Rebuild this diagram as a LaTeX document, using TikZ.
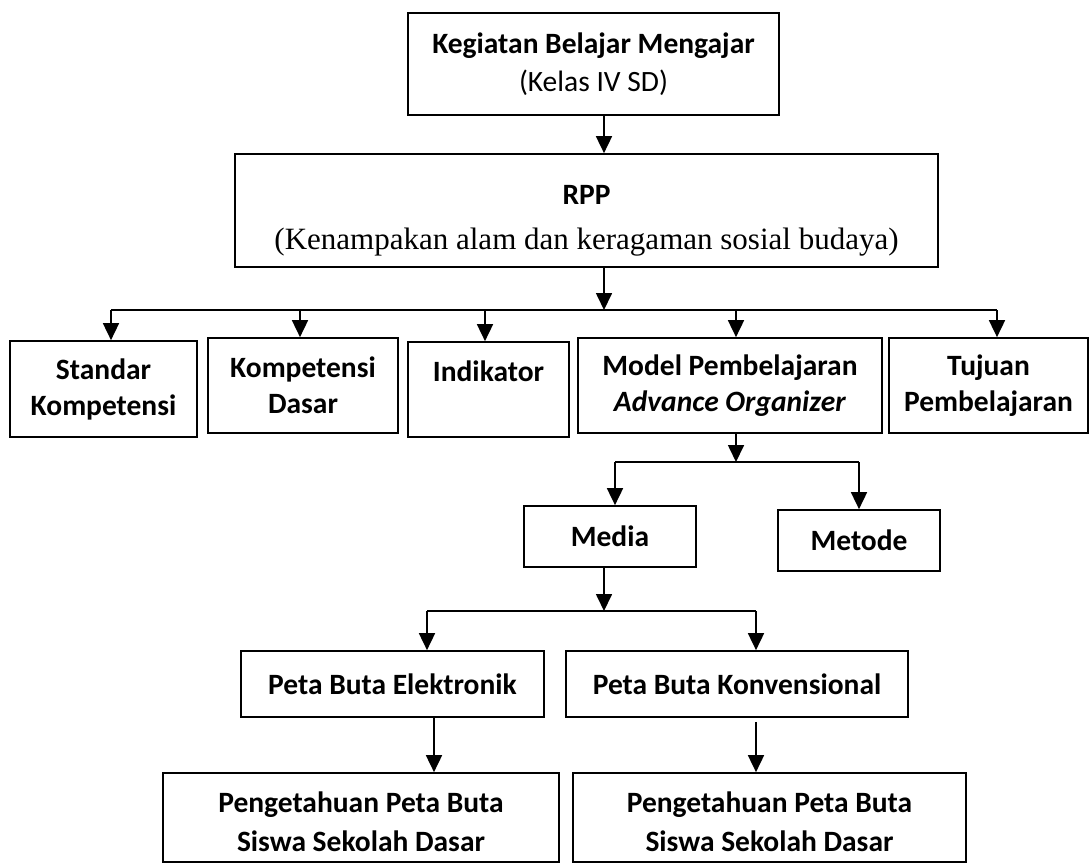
\documentclass[tikz,border=0pt]{standalone}
\usepackage{fontspec}
\setmainfont{Carlito}
\newfontfamily\serifrm{Liberation Serif}
\usetikzlibrary{arrows.meta,calc}

\begin{document}
\begin{tikzpicture}
[x=1pt,y=-1pt,
box/.style={
	draw,
	line width=1.7pt,
	inner sep=0pt,
	align=center,
	font=\bfseries\fontsize{29.5}{36}\selectfont,
    },
arr/.style={line width=1.7pt,-{Triangle[width=16pt,length=17pt]}},
bus/.style={line width=1.7pt},]
\useasboundingbox (0,0) rectangle (1091,865);

% draw the top part
\node[box, minimum width=371, minimum height=102] (kbm) at (593.5,64)
  {Kegiatan Belajar Mengajar\\[2pt]\mdseries (Kelas IV SD)};
\node[box, minimum width=703, minimum height=113] (rpp) at (586.5,210.5)
  {\rule{0pt}{40pt}RPP\\[9pt]\mdseries\serifrm\fontsize{31}{36}\selectfont (Kenampakan alam dan keragaman sosial budaya)};

% draw the middle row
\node[box, minimum width=187, minimum height=96] (sk) at (103.5,389) {Standar\\Kompetensi};
\node[box, minimum width=190, minimum height=95] (kd) at (303,385.5) {Kompetensi\\Dasar};
\node[box, minimum width=161, minimum height=95] (ind) at (488.5,389.5) {Indikator\\\mbox{}};
\node[box, minimum width=304, minimum height=95] (model) at (730,385.5) {Model Pembelajaran\\\textit{Advance Organizer}};
\node[box, minimum width=199, minimum height=95] (tuj) at (988.5,385.5) {Tujuan\\Pembelajaran};

\node[box, minimum width=172, minimum height=61] (media) at (610,536.5) {Media};
\node[box, minimum width=162, minimum height=61] (metode) at (859,540.5) {Metode};

% draw the lower part
\node[box, minimum width=303, minimum height=66] (pbe) at (392.5,684) {Peta Buta Elektronik};
\node[box, minimum width=342, minimum height=66] (pbk) at (737,684) {Peta Buta Konvensional};
\node[box, minimum width=396, minimum height=89, font=\bfseries\fontsize{29.5}{39}\selectfont] (bl) at (361,817.5)
  {\rule{0pt}{30pt}Pengetahuan Peta Buta\\Siswa Sekolah Dasar};
\node[box, minimum width=393, minimum height=89, font=\bfseries\fontsize{29.5}{39}\selectfont] (br) at (769.5,817.5)
  {\rule{0pt}{30pt}Pengetahuan Peta Buta\\Siswa Sekolah Dasar};

% helper points
\coordinate (spine) at (604,0);
\coordinate (bus1) at (0,310);
\coordinate (bus2) at (0,462);
\coordinate (bus3) at (0,611);

%draw lines
\draw[arr] (kbm.south -| spine) -- (rpp.north -| spine);
\draw[arr] (rpp.south -| spine) -- (bus1 -| spine);
\draw[bus] (111,310) -- (997,310);
\foreach \x/\n in {111/sk,300/kd,485/ind,736/model,997/tuj}{
  \coordinate (d\n) at (\x,310);
  \draw[arr] (d\n) -- (d\n |- \n.north);
}

\coordinate (dm) at (736,0);
\draw[arr] (model.south -| dm) -- (bus2 -| dm);
\draw[bus] (615,462) -- (859,462);
\coordinate (dmedia) at (615,462);
\coordinate (dmetode) at (859,462);
\draw[arr] (dmedia) -- (dmedia |- media.north);
\draw[arr] (dmetode) -- (dmetode |- metode.north);

\draw[arr] (media.south -| spine) -- (bus3 -| spine);
\draw[bus] (427,611) -- (756,611);
\coordinate (dpbe) at (427,611);
\coordinate (dpbk) at (756,611);
\draw[arr] (dpbe) -- (dpbe |- pbe.north);
\draw[arr] (dpbk) -- (dpbk |- pbk.north);

\coordinate (dbl) at (434,0);
\draw[arr] (pbe.south -| dbl) -- (bl.north -| dbl);
\draw[arr] ($(pbk.south -| dpbk)+(0,4)$) -- (br.north -| dpbk);
\end{tikzpicture}
\end{document}
